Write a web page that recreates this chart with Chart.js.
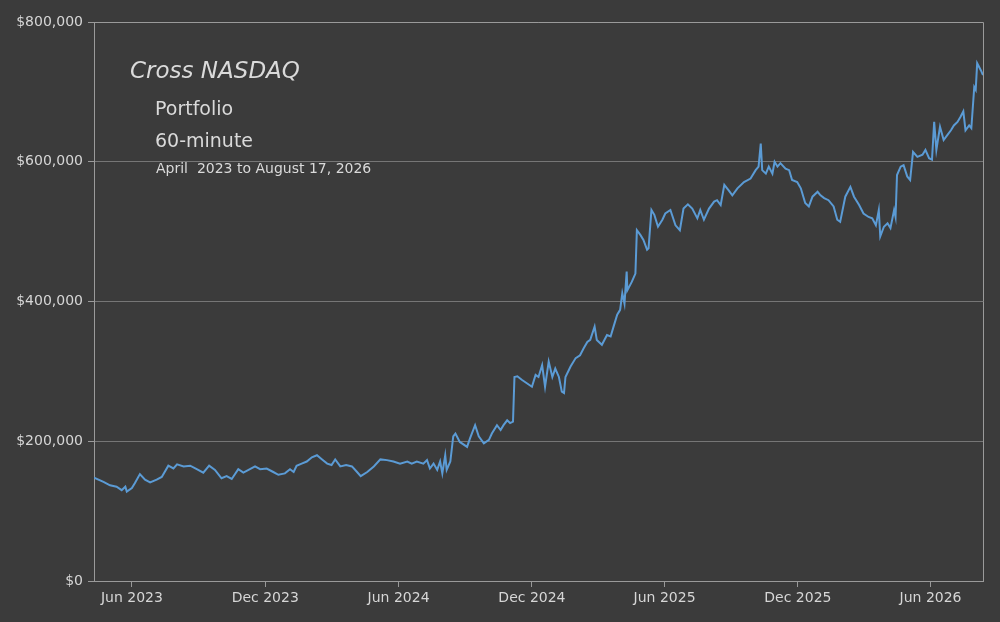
<!DOCTYPE html>
<html>
<head>
<meta charset="utf-8">
<title>Cross NASDAQ Portfolio</title>
<script src="https://cdn.jsdelivr.net/npm/chart.js@4.4.1/dist/chart.umd.min.js"></script>
<style>
  html, body { margin: 0; padding: 0; background: #3b3b3b; }
  #wrap { position: relative; width: 1000px; height: 622px; }
  .ttl { position: absolute; font-family: 'DejaVu Sans', sans-serif; color: #dadada; line-height: 1; white-space: pre; }
</style>
</head>
<body>
<div id="wrap">
  <canvas id="chart-area"></canvas>
  <div class="ttl" style="left:130px; top:59px; font-size:23px; font-style:italic;">Cross NASDAQ</div>
  <div class="ttl" style="left:155px; top:99px; font-size:19px;">Portfolio</div>
  <div class="ttl" style="left:155px; top:131px; font-size:19px;">60-minute</div>
  <div class="ttl" style="left:156px; top:161px; font-size:14px;">April  2023 to August 17, 2026</div>
</div>
<script>
  'use strict';

  // portfolio value
  var dates = [
    '2023-04-10','2023-04-23','2023-05-02','2023-05-11','2023-05-18','2023-05-23','2023-05-25','2023-06-01',
    '2023-06-05','2023-06-12','2023-06-19','2023-06-26','2023-07-05','2023-07-12','2023-07-21','2023-07-28',
    '2023-08-02','2023-08-11','2023-08-20','2023-08-29','2023-09-07','2023-09-15','2023-09-23','2023-10-02',
    '2023-10-09','2023-10-16','2023-10-25','2023-11-01','2023-11-10','2023-11-17','2023-11-24','2023-12-03',
    '2023-12-12','2023-12-19','2023-12-28','2024-01-04','2024-01-09','2024-01-13','2024-01-20','2024-01-27',
    '2024-02-03','2024-02-10','2024-02-17','2024-02-24','2024-03-01','2024-03-06','2024-03-13','2024-03-21',
    '2024-03-29','2024-04-05','2024-04-10','2024-04-19','2024-04-28','2024-05-07','2024-05-16','2024-05-25',
    '2024-06-03','2024-06-13','2024-06-19','2024-06-26','2024-07-05','2024-07-10','2024-07-14','2024-07-19',
    '2024-07-24','2024-07-28','2024-07-31','2024-08-04','2024-08-06','2024-08-11','2024-08-15','2024-08-18',
    '2024-08-24','2024-09-03','2024-09-07','2024-09-14','2024-09-19','2024-09-26','2024-10-03','2024-10-07',
    '2024-10-14','2024-10-19','2024-10-23','2024-10-28','2024-11-01','2024-11-05','2024-11-07','2024-11-11',
    '2024-11-17','2024-11-24','2024-12-01','2024-12-06','2024-12-10','2024-12-15','2024-12-19','2024-12-24',
    '2024-12-29','2025-01-02','2025-01-07','2025-01-11','2025-01-14','2025-01-16','2025-01-23','2025-01-30',
    '2025-02-05','2025-02-10','2025-02-15','2025-02-19','2025-02-25','2025-02-28','2025-03-07','2025-03-14',
    '2025-03-19','2025-03-23','2025-03-28','2025-04-01','2025-04-04','2025-04-07','2025-04-10','2025-04-11',
    '2025-04-17','2025-04-22','2025-04-24','2025-04-29','2025-05-03','2025-05-08','2025-05-10','2025-05-14',
    '2025-05-18','2025-05-23','2025-05-29','2025-06-02','2025-06-09','2025-06-16','2025-06-22','2025-06-27',
    '2025-07-03','2025-07-09','2025-07-16','2025-07-20','2025-07-25','2025-08-01','2025-08-08','2025-08-12',
    '2025-08-17','2025-08-22','2025-08-28','2025-09-02','2025-09-09','2025-09-18','2025-09-27','2025-10-04',
    '2025-10-08','2025-10-11','2025-10-13','2025-10-18','2025-10-22','2025-10-27','2025-10-30','2025-11-03',
    '2025-11-07','2025-11-14','2025-11-19','2025-11-23','2025-11-30','2025-12-05','2025-12-11','2025-12-16',
    '2025-12-21','2025-12-28','2026-01-01','2026-01-06','2026-01-12','2026-01-19','2026-01-24','2026-01-28',
    '2026-02-04','2026-02-11','2026-02-16','2026-02-23','2026-03-01','2026-03-08','2026-03-13','2026-03-18',
    '2026-03-22','2026-03-24','2026-03-29','2026-04-03','2026-04-07','2026-04-12','2026-04-14','2026-04-16',
    '2026-04-21','2026-04-25','2026-04-30','2026-05-04','2026-05-08','2026-05-14','2026-05-21','2026-05-25',
    '2026-05-30','2026-06-03','2026-06-06','2026-06-09','2026-06-14','2026-06-19','2026-06-24','2026-06-29',
    '2026-07-03','2026-07-08','2026-07-12','2026-07-16','2026-07-19','2026-07-24','2026-07-27','2026-07-31',
    '2026-08-02','2026-08-04','2026-08-09','2026-08-12'
  ];
  var portfolio = [
    148000,142000,137000,135000,130000,135000,128000,133000,
    140000,153000,145000,141000,145000,149000,165000,161000,
    167000,164000,165000,160000,155000,165000,159000,147000,
    150000,146000,160000,155000,160000,164000,160000,161000,
    156000,152000,154000,160000,156000,165000,168000,171000,
    177000,180000,174000,168000,166000,174000,164000,166000,
    164000,156000,150000,156000,164000,174000,173000,171000,
    168000,171000,168000,171000,168000,173000,161000,168000,
    159000,171000,154000,180000,159000,171000,207000,211000,
    199000,192000,204000,223000,207000,197000,202000,211000,
    223000,216000,223000,230000,226000,228000,292000,293000,
    288000,283000,278000,295000,292000,309000,278000,314000,
    292000,304000,292000,271000,269000,292000,307000,319000,
    323000,333000,342000,345000,364000,345000,338000,352000,
    350000,364000,381000,388000,412000,397000,443000,416000,
    428000,440000,502000,495000,488000,474000,476000,531000,
    524000,507000,517000,526000,531000,509000,502000,533000,
    539000,533000,519000,531000,517000,533000,543000,545000,
    538000,567000,559000,552000,562000,571000,576000,588000,
    593000,626000,588000,583000,593000,583000,600000,593000,
    598000,590000,588000,574000,571000,562000,541000,536000,
    550000,557000,552000,548000,545000,536000,517000,514000,
    550000,564000,550000,538000,526000,521000,519000,509000,
    531000,493000,507000,512000,505000,531000,521000,581000,
    593000,595000,579000,574000,614000,607000,610000,617000,
    605000,603000,657000,617000,650000,631000,638000,645000,
    652000,657000,664000,672000,645000,652000,648000,707000,
    703000,741000,731000,724000
  ];

  var tickDates = ['2023-06-01','2023-12-01','2024-06-01','2024-12-01','2025-06-01','2025-12-01','2026-06-01'];
  var tickLabels = ['Jun 2023','Dec 2023','Jun 2024','Dec 2024','Jun 2025','Dec 2025','Jun 2026'];
  var yTicks = [0, 200000, 400000, 600000, 800000];

  var textColor = '#d6d6d6';
  var axisColor = '#9a9a9a';
  var gridColor = '#767676';

  var points = [];
  for (var i = 0; i < dates.length; i++) {
    points.push({ x: Date.parse(dates[i]), y: portfolio[i] });
  }

  // top and right edge of the plot box
  var frameBox = {
    id: 'frameBox',
    afterDatasetsDraw: function (chart) {
      var a = chart.chartArea, ctx = chart.ctx;
      ctx.save();
      ctx.strokeStyle = axisColor;
      ctx.lineWidth = 1;
      ctx.beginPath();
      ctx.moveTo(a.left, a.top + 0.5);
      ctx.lineTo(a.right + 0.5, a.top + 0.5);
      ctx.lineTo(a.right + 0.5, a.bottom);
      ctx.stroke();
      ctx.restore();
    }
  };

  Chart.defaults.font.family = "'DejaVu Sans', sans-serif";
  Chart.defaults.font.size = 14;
  Chart.defaults.color = textColor;

  var ctx = document.getElementById('chart-area').getContext('2d');
  window.portfolioChart = new Chart(ctx, {
    type: 'line',
    data: {
      datasets: [{
        label: 'Portfolio',
        data: points,
        borderColor: '#5b9bd5',
        borderWidth: 2,
        pointRadius: 0,
        tension: 0,
        fill: false
      }]
    },
    options: {
      responsive: true,
      maintainAspectRatio: false,
      animation: false,
      layout: { padding: { top: 22, right: 17, left: 0, bottom: 0 } },
      plugins: {
        legend: { display: false },
        tooltip: { enabled: false },
        title: { display: false }
      },
      scales: {
        x: {
          type: 'linear',
          min: Date.parse(dates[0]),
          max: Date.parse(dates[dates.length - 1]),
          afterBuildTicks: function (scale) {
            scale.ticks = tickDates.map(function (d) { return { value: Date.parse(d) }; });
          },
          afterFit: function (scale) { scale.height = 41; },
          ticks: {
            autoSkip: false,
            maxRotation: 0,
            padding: 3,
            color: textColor,
            callback: function (value, index) { return tickLabels[index]; }
          },
          grid: { drawOnChartArea: false, tickLength: 6, tickColor: axisColor },
          border: { color: axisColor, width: 1 }
        },
        y: {
          min: 0,
          max: 800000,
          afterBuildTicks: function (scale) {
            scale.ticks = yTicks.map(function (v) { return { value: v }; });
          },
          afterFit: function (scale) { scale.width = 94; },
          ticks: {
            padding: 5,
            color: textColor,
            callback: function (value) { return '$' + value.toLocaleString('en-US'); }
          },
          grid: { color: gridColor, tickLength: 6, tickColor: axisColor },
          border: { color: axisColor, width: 1 }
        }
      }
    },
    plugins: [frameBox]
  });
</script>
</body>
</html>
